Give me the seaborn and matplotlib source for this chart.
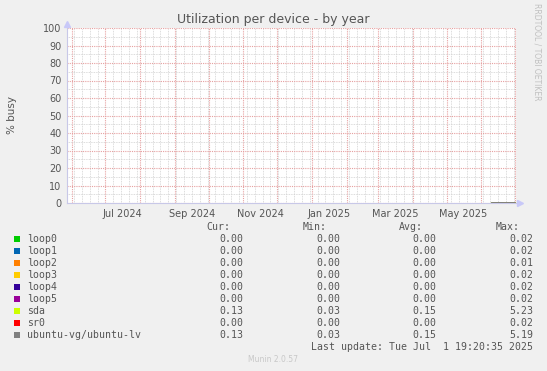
import numpy as np
import pandas as pd
import matplotlib
matplotlib.use("Agg")
import matplotlib.pyplot as plt
import matplotlib.dates as mdates
import matplotlib.transforms as mtrans
import seaborn as sns

# ---------------- data ----------------
title = "Utilization per device - by year"
ylabel = "% busy"
devices = ["loop0", "loop1", "loop2", "loop3", "loop4", "loop5", "sda", "sr0", "ubuntu-vg/ubuntu-lv"]
colors = ["#00CC00", "#0066B3", "#FF8000", "#FFCC00", "#330099", "#990099", "#CCFF00", "#FF0000", "#808080"]
cur = ["0.00", "0.00", "0.00", "0.00", "0.00", "0.00", "0.13", "0.00", "0.13"]
mins = ["0.00", "0.00", "0.00", "0.00", "0.00", "0.00", "0.03", "0.00", "0.03"]
avgs = ["0.00", "0.00", "0.00", "0.00", "0.00", "0.00", "0.15", "0.00", "0.15"]
maxs = ["0.02", "0.02", "0.01", "0.02", "0.02", "0.02", "5.23", "0.02", "5.19"]
last_update = "Last update: Tue Jul  1 19:20:35 2025"
x_labels = ["Jul 2024", "Sep 2024", "Nov 2024", "Jan 2025", "Mar 2025", "May 2025"]
x_label_dates = ["2024-07-16", "2024-09-16", "2024-11-16", "2025-01-16", "2025-03-16", "2025-05-16"]
y_ticks = [0, 10, 20, 30, 40, 50, 60, 70, 80, 90, 100]

# measured data exists only for the last weeks (daily consolidated values)
data_dates = ["2025-06-10", "2025-06-13", "2025-06-16", "2025-06-19", "2025-06-22",
              "2025-06-25", "2025-06-28", "2025-07-01"]
series = {
    "loop0": [0.00, 0.00, 0.00, 0.00, 0.00, 0.00, 0.00, 0.00],
    "loop1": [0.00, 0.00, 0.00, 0.00, 0.00, 0.00, 0.00, 0.00],
    "loop2": [0.00, 0.00, 0.00, 0.00, 0.00, 0.00, 0.00, 0.00],
    "loop3": [0.00, 0.00, 0.00, 0.00, 0.00, 0.00, 0.00, 0.00],
    "loop4": [0.00, 0.00, 0.00, 0.00, 0.00, 0.00, 0.00, 0.00],
    "loop5": [0.00, 0.00, 0.00, 0.00, 0.00, 0.00, 0.00, 0.00],
    "sr0": [0.00, 0.00, 0.00, 0.00, 0.00, 0.00, 0.00, 0.00],
    "sda": [0.16, 0.14, 0.15, 0.17, 0.13, 0.16, 0.15, 0.13],
    "ubuntu-vg/ubuntu-lv": [0.16, 0.14, 0.15, 0.17, 0.13, 0.16, 0.15, 0.13],
}
x_start = "2024-05-27 19:20"
x_end = "2025-07-01 19:20"

# ---------------- figure ----------------
sns.set_theme(style="white")
plt.rcParams['font.family'] = ['DejaVu Sans']
BG = "#F0F0F0"
TXT = "#555555"
W, H = 547, 371
fig = plt.figure(figsize=(W / 100, H / 100), dpi=100, facecolor=BG)
L, R, T, B = 67, 516, 28, 203
ax = fig.add_axes([L / W, 1 - B / H, (R - L) / W, (B - T) / H])
ax.set_facecolor("white")

rows = []
for d in devices:
    for dt, v in zip(data_dates, series[d]):
        rows.append({"date": pd.Timestamp(dt), "value": v, "device": d})
df = pd.DataFrame(rows)
pal = dict(zip(devices, colors))
sns.lineplot(data=df, x="date", y="value", hue="device", palette=pal, ax=ax,
             legend=False, linewidth=1.0, zorder=5)

ax.set_xlim(pd.Timestamp(x_start), pd.Timestamp(x_end))
ax.set_ylim(0, 100)

# grids
ax.xaxis.set_major_locator(mdates.MonthLocator(bymonthday=1))
ax.xaxis.set_minor_locator(mdates.WeekdayLocator(byweekday=mdates.MO))
ax.xaxis.set_major_formatter(plt.NullFormatter())
ax.set_yticks(y_ticks)
ax.set_yticks(np.arange(5, 100, 10), minor=True)
ax.grid(which="major", color="#E6A0A0", linestyle=(0, (1, 1)), linewidth=0.8, zorder=1)
ax.grid(which="minor", color="#D0D0D0", linestyle=(0, (1, 1)), linewidth=0.6, zorder=0)
ax.tick_params(axis="both", which="major", length=2, color="#E8A0A0", width=0.7,
               labelsize=7, labelcolor=TXT, pad=2)
ax.tick_params(axis="both", which="minor", length=1.5, color="#CCCCCC", width=0.5)
ax.set_yticklabels([str(v) for v in y_ticks])
ax.set_xlabel("")
ax.set_ylabel("")

for sp in ["top", "right"]:
    ax.spines[sp].set_visible(False)
for sp in ["left", "bottom"]:
    ax.spines[sp].set_color("#C8C8E8")
    ax.spines[sp].set_linewidth(0.8)

# arrows
ax.plot([0], [1.025], marker="^", color="#C8C8F8", markersize=5, transform=ax.transAxes, clip_on=False)
ax.plot([1.01], [0], marker=">", color="#C8C8F8", markersize=5, transform=ax.transAxes, clip_on=False)

# x labels at mid-month
trans = mtrans.blended_transform_factory(ax.transData, ax.transAxes)
for lab, d in zip(x_labels, x_label_dates):
    ax.text(mdates.date2num(pd.Timestamp(d)), -0.035, lab, transform=trans,
            ha="center", va="top", fontsize=7, color=TXT)

fig.text(273 / W, 1 - 19 / H, title, ha="center", va="center", fontsize=9, color=TXT)
fig.text(12 / W, 1 - 115 / H, ylabel, rotation=90, ha="center", va="center", fontsize=7.5, color=TXT)
fig.text(537 / W, 1 - 52 / H, "RRDTOOL / TOBI OETIKER", rotation=270, ha="center", va="center",
         fontsize=5.5, color="#C0C0C0")

# legend table
mono = "DejaVu Sans Mono"
fs = 7.1
fig.text(230 / W, 1 - 227 / H, "Cur:", ha="right", va="center", fontsize=fs, family=mono, color=TXT)
fig.text(327 / W, 1 - 227 / H, "Min:", ha="right", va="center", fontsize=fs, family=mono, color=TXT)
fig.text(423 / W, 1 - 227 / H, "Avg:", ha="right", va="center", fontsize=fs, family=mono, color=TXT)
fig.text(520 / W, 1 - 227 / H, "Max:", ha="right", va="center", fontsize=fs, family=mono, color=TXT)
for i, d in enumerate(devices):
    y = 1 - (239 + 12 * i) / H
    fig.patches.append(plt.Rectangle((14 / W, y - 3 / H), 6 / W, 6 / H, transform=fig.transFigure,
                                     facecolor=colors[i], edgecolor="none"))
    fig.text(27 / W, y, d, ha="left", va="center", fontsize=fs, family=mono, color=TXT)
    fig.text(243 / W, y, cur[i], ha="right", va="center", fontsize=fs, family=mono, color=TXT)
    fig.text(340 / W, y, mins[i], ha="right", va="center", fontsize=fs, family=mono, color=TXT)
    fig.text(436 / W, y, avgs[i], ha="right", va="center", fontsize=fs, family=mono, color=TXT)
    fig.text(533 / W, y, maxs[i], ha="right", va="center", fontsize=fs, family=mono, color=TXT)
fig.text(533 / W, 1 - 347 / H, last_update, ha="right", va="center", fontsize=fs, family=mono, color=TXT)
fig.text(273 / W, 1 - 360 / H, "Munin 2.0.57", ha="center", va="center", fontsize=5.5, color="#C8C8C8")

fig.savefig("out.png", dpi=100, facecolor=BG)
